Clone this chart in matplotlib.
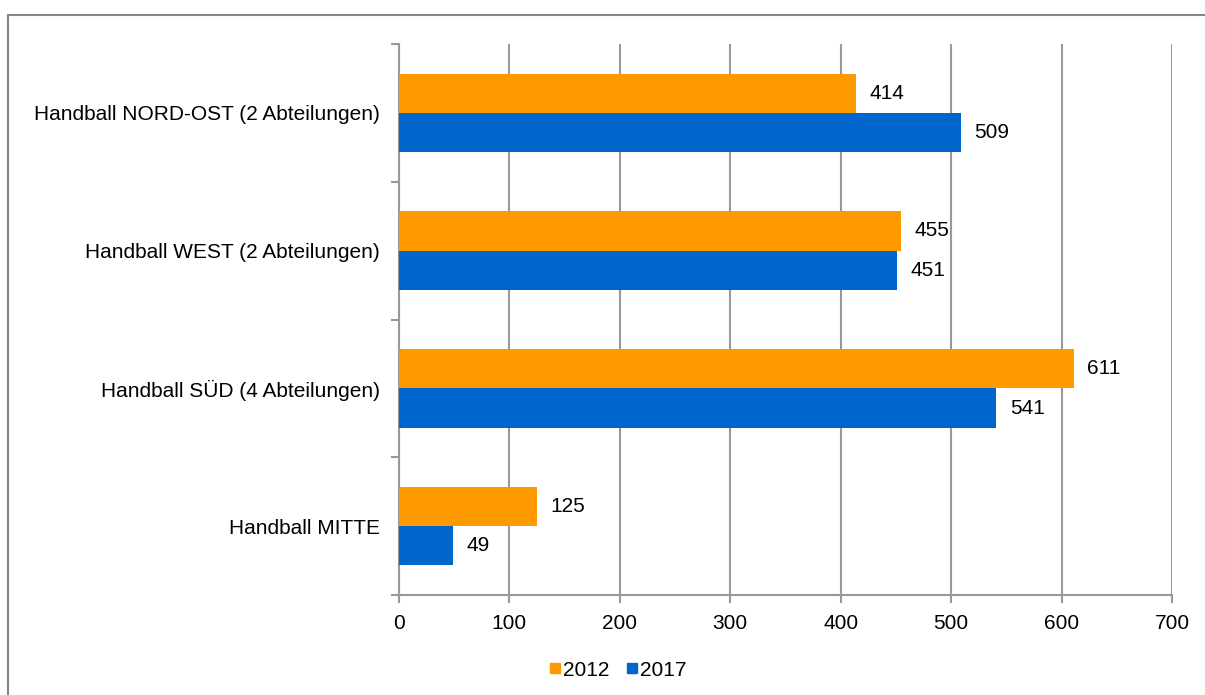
import numpy as np
import matplotlib.pyplot as plt
import matplotlib
from matplotlib.patches import Rectangle
from matplotlib.lines import Line2D

matplotlib.rc('font', family='Liberation Sans', size=15)

categories = ['Handball NORD-OST (2 Abteilungen)', 'Handball WEST (2 Abteilungen)',
              'Handball SÜD (4 Abteilungen)', 'Handball MITTE']
values_2012 = [414, 455, 611, 125]
values_2017 = [509, 451, 541, 49]
years = ['2012', '2017']
colors = ['#FF9900', '#0066CC']
grid_col = '#999999'

fig = plt.figure(figsize=(12.05, 6.95), dpi=100)
W, H = 1205, 695
ax = fig.add_axes([399 / W, 1 - 595 / H, (1172 - 399) / W, (595 - 44) / H])

# outer frame
fig.patches.append(Rectangle((8 / W, -0.01), 1.02, 1 - 15 / H + 0.01,
                             transform=fig.transFigure, fill=False,
                             edgecolor='#868686', lw=1.5))

n = len(categories)
pos = np.arange(n)[::-1].astype(float)
h = 0.285
ax.barh(pos + h / 2, values_2012, height=h, color=colors[0], zorder=3)
ax.barh(pos - h / 2, values_2017, height=h, color=colors[1], zorder=3)

for p, v in zip(pos, values_2012):
    ax.text(v + 12, p + h / 2, str(v), va='center', ha='left', zorder=4)
for p, v in zip(pos, values_2017):
    ax.text(v + 12, p - h / 2, str(v), va='center', ha='left', zorder=4)

ax.set_xlim(0, 700)
ax.set_ylim(-0.5, n - 0.5)
ax.set_xticks(np.arange(0, 701, 100))
ax.xaxis.grid(True, color=grid_col, lw=1.5, zorder=0)
ax.set_yticks(pos)
ax.set_yticklabels(categories)
ax.set_yticks(np.arange(-0.5, n, 1.0), minor=True)
ax.tick_params(axis='y', which='major', length=0, pad=14)
ax.tick_params(axis='y', which='minor', length=6, width=1.5, color=grid_col)
ax.tick_params(axis='x', length=6, width=1.5, color=grid_col, pad=8)
for s in ['top', 'right']:
    ax.spines[s].set_visible(False)
for s in ['left', 'bottom']:
    ax.spines[s].set_color(grid_col)
    ax.spines[s].set_linewidth(1.5)

handles = [Line2D([], [], marker='s', ls='', color=c, markersize=7.5) for c in colors]
fig.legend(handles, years, loc='center', bbox_to_anchor=(617 / W, 1 - 670 / H),
           ncol=2, frameon=False, handletextpad=0.05, columnspacing=0.7,
           handlelength=0.7, borderpad=0)

plt.savefig('out.png', dpi=100)
